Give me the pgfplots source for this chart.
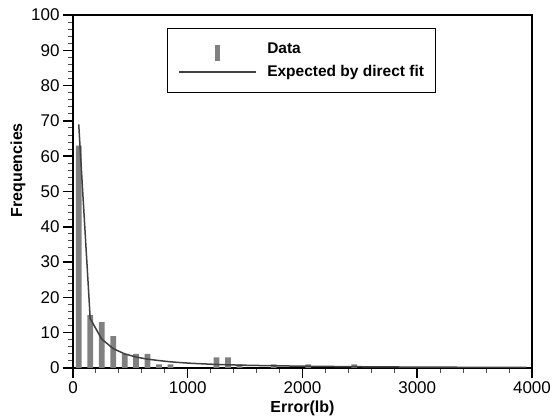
\documentclass[border=0pt]{standalone}
\usepackage{pgfplots}
\pgfplotsset{compat=1.18}
\usepackage{fontspec}
\setmainfont{Liberation Sans}
\definecolor{barg}{RGB}{128,128,128}
\definecolor{fitc}{RGB}{64,64,64}

\pgfplotsset{
    barlegend/.style={
        legend image code/.code={
            \path[draw=none, fill=none] (0pt,0pt) rectangle (88pt,1pt);
            \fill[barg] (35.5pt,-12pt) rectangle (40.5pt,4pt);
        }
    },
    linelegend/.style={
        legend image code/.code={
            \path[draw=none, fill=none] (0pt,0pt) rectangle (88pt,1pt);
            \draw[##1] (0pt,-0.5pt) -- (77pt,-0.5pt);
        }
    },
}

\begin{document}
\begin{tikzpicture}
\useasboundingbox (-73pt,-51pt) rectangle (482pt,368pt);
\begin{axis}[
    at={(0pt,0pt)}, anchor=south west,
    scale only axis,
    width=459pt, height=353pt,
    xmin=0, xmax=4000, ymin=0, ymax=100,
    xtick={0,1000,...,4000},
    ytick={0,10,...,100},
    minor x tick num=4,
    minor y tick num=4,
    tick align=outside,
    xtick pos=left, ytick pos=left,
    major tick length=10pt,
    minor tick length=5pt,
    axis line style={line width=1.5pt},
    every major tick/.style={line width=1.5pt, black},
    every minor tick/.style={line width=1pt, black!70},
    /pgf/number format/assume math mode=true,
    /pgf/number format/1000 sep={},
    scaled x ticks=false,
    tick label style={font=\fontsize{17}{20}\selectfont},
    xlabel={Error(lb)},
    ylabel={Frequencies},
    label style={font=\bfseries\fontsize{16}{19}\selectfont},
    xlabel style={at={(axis description cs:0.5,-0.113)}, anchor=center},
    ylabel style={at={(axis description cs:-0.12,0.56)}, anchor=center},
    legend style={
        at={(axis description cs:0.2048,0.963)}, anchor=north west,
        draw=black, line width=1pt,
        font=\bfseries\fontsize{15.5}{19}\selectfont,
        inner xsep=11pt, inner ysep=12pt,
        nodes={inner sep=0pt, text height=13pt, text depth=4pt},
        row sep=2pt,
    },
    legend cell align=left,
]
\addplot[ybar, bar width=50, fill=barg, draw=none, barlegend]
coordinates {
    (50,63) (150,15) (250,13) (350,9) (450,4) (550,4) (650,4)
    (750,1) (850,1) (1250,3) (1350,3) (1450,1) (1750,1) (2050,1) (2450,1)
};
\addlegendentry{Data}
\addplot[color=fitc, line width=1.5pt, mark=none, linelegend]
coordinates {
    (50,69) (150,14) (250,8.2) (350,5.5) (450,4.0) (550,3.1) (650,2.5)
    (750,2.1) (850,1.75) (950,1.5) (1050,1.3) (1150,1.15) (1250,1.0)
    (1350,0.9) (1450,0.82) (1550,0.75) (1650,0.69) (1750,0.63) (1850,0.58)
    (1950,0.54) (2050,0.5) (2250,0.43) (2450,0.37) (2650,0.32) (2850,0.28)
    (3050,0.25) (3350,0.21) (3650,0.18) (3950,0.16)
};
\addlegendentry{Expected by direct fit}
\end{axis}
\end{tikzpicture}
\end{document}
